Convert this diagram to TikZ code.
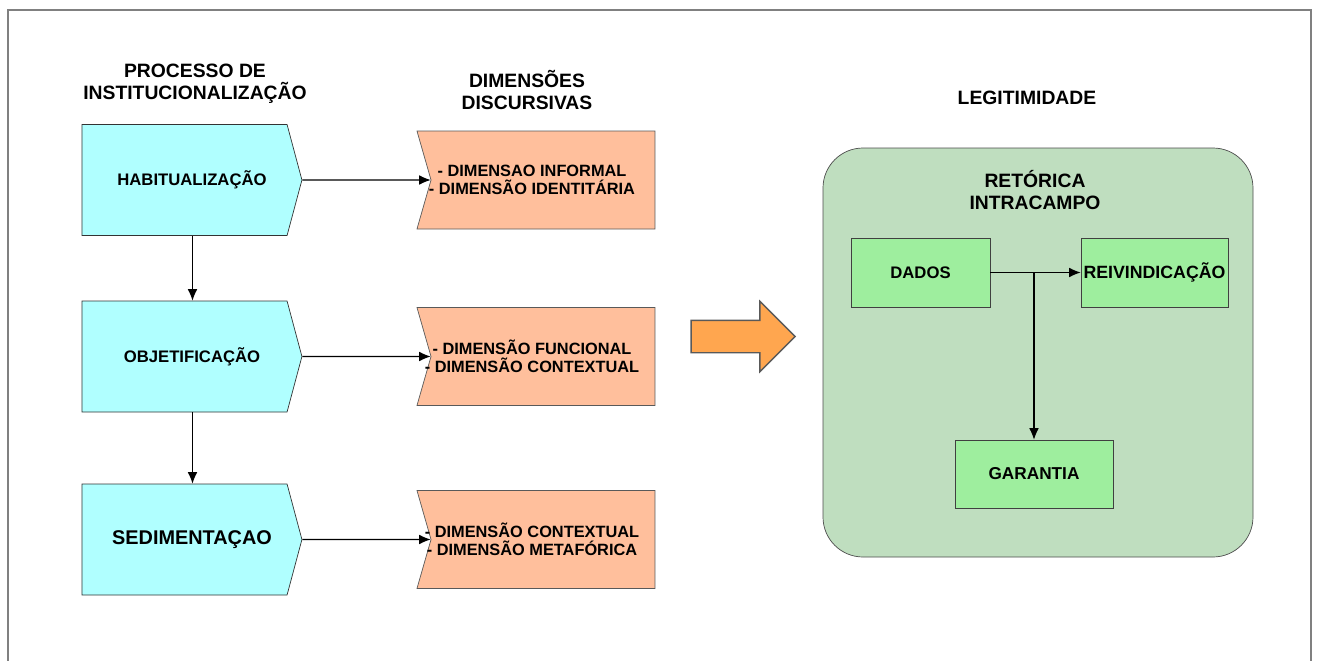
\documentclass[tikz,border=0pt]{standalone}
\usepackage{fontspec}
\setmainfont{Liberation Sans}
\usepackage{tikz}
\usetikzlibrary{shapes,arrows,arrows.meta}
\definecolor{cyanfill}{HTML}{B0FFFF}
\definecolor{salmonfill}{HTML}{FFBF9C}
\definecolor{sagefill}{HTML}{BFDEBF}
\definecolor{greenfill}{HTML}{9EEE9E}
\definecolor{orangefill}{HTML}{FFA64F}
\definecolor{framegray}{HTML}{808080}
\tikzstyle{stage} = [signal, signal to = east, signal pointer angle = 150, draw = black!80, fill = cyanfill, minimum width = 4.4cm, minimum height = 2.22cm, inner sep = 0pt]
\tikzstyle{dimension} = [signal, signal from = west, signal to = nowhere, signal pointer angle = 148, draw = black!65, fill = salmonfill, minimum width = 4.76cm, minimum height = 1.96cm, inner sep = 0pt, align = center, font = \fontsize{9.3}{10.4}\selectfont\bfseries]
\tikzstyle{header} = [align = center, font = \fontsize{11}{12.3}\selectfont\bfseries]
\tikzstyle{element} = [rectangle, draw = black!75, fill = greenfill, minimum height = 1.38cm]
\tikzstyle{line} = [draw, line width = 0.6pt, -{Latex[length = 6.5pt, width = 5.5pt]}]

\begin{document}
\begin{tikzpicture}
\tikzstyle{every node}=[font=\fontsize{9.5}{12}\selectfont\bfseries];
\useasboundingbox (0,0) rectangle (26.4,-13.22);
\draw [framegray, line width = 1.1pt] (0.16,-13.4) -- (0.16,-0.2) -- (26.22,-0.2) -- (26.22,-13.4);

% titulos
\node [header] (proc) at (3.9,-1.67) {PROCESSO DE\\INSTITUCIONALIZAÇÃO};
\node [header] (dimhead) at (10.54,-1.8) {DIMENSÕES\\DISCURSIVAS};
\node [header] (legit) at (20.54,-1.96) {LEGITIMIDADE};

% processo
\node [stage] (habit) at (3.69,-3.6) {\hspace*{0.3cm}HABITUALIZAÇÃO};
\node [stage, below of = habit, node distance = 3.53cm] (objet) {\hspace*{0.3cm}OBJETIFICAÇÃO};
\node [stage, below of = objet, node distance = 3.66cm, font = \fontsize{11.3}{13}\selectfont\bfseries] (sedim) {\hspace*{0.3cm}SEDIMENTAÇAO};

% dimensoes
\node [dimension, right of = habit, node distance = 7.17cm] (dim1) {\hspace*{-0.44cm}- DIMENSAO INFORMAL\\\hspace*{-0.44cm}- DIMENSÃO IDENTITÁRIA};
\node [dimension, right of = objet, node distance = 7.17cm] (dim2) {\hspace*{-0.44cm}- DIMENSÃO FUNCIONAL\\\hspace*{-0.44cm}- DIMENSÃO CONTEXTUAL};
\node [dimension, right of = sedim, node distance = 7.17cm] (dim3) {\hspace*{-0.44cm}- DIMENSÃO CONTEXTUAL\\\hspace*{-0.44cm}- DIMENSÃO METAFÓRICA};

\path [line] ([xshift = 0.16cm]habit.south) -- ([xshift = 0.16cm]objet.north);
\path [line] ([xshift = 0.16cm]objet.south) -- ([xshift = 0.16cm]sedim.north);
\path [line] (habit) -- (dim1);
\path [line] (objet) -- (dim2);
\path [line] (sedim) -- (dim3);

\node [single arrow, draw = black!65, line width = 0.8pt, fill = orangefill, minimum height = 2.08cm, minimum width = 1.38cm, single arrow head extend = 0.38cm, inner xsep = 0pt, inner ysep = 0.31cm] (shift) at (14.70,-6.73) {};

% legitimidade
\node [draw = black!70, fill = sagefill, rounded corners = 0.8cm, minimum width = 8.6cm, minimum height = 8.18cm] (field) at (20.76,-7.05) {};
\node [header] (retor) at (20.7,-3.8) {RETÓRICA\\INTRACAMPO};
\node [element, minimum width = 2.78cm] (dados) at (18.41,-5.45) {DADOS};
\node [element, minimum width = 2.94cm, inner xsep = 1pt, right of = dados, node distance = 4.68cm, font = \fontsize{10.1}{12}\selectfont\bfseries] (reivind) {REIVINDICAÇÃO};
\node [element, minimum width = 3.16cm, minimum height = 1.36cm, font = \fontsize{9.8}{12}\selectfont\bfseries] (garant) at (20.68,-9.48) {GARANTIA};
\coordinate (split) at (garant.north |- dados.east);
\path [line] (dados) -- (reivind);
\path [line] (split) -- (garant);
\end{tikzpicture}
\end{document}
